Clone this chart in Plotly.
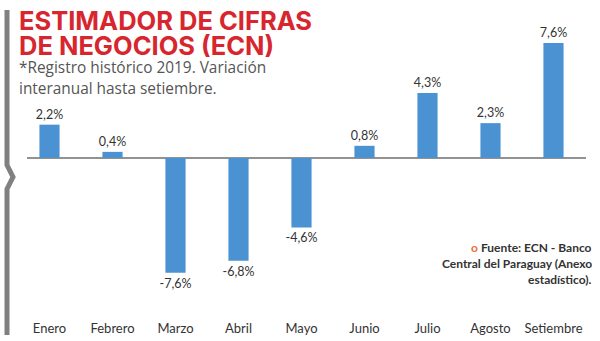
import plotly.graph_objects as go

months = ["Enero", "Febrero", "Marzo", "Abril", "Mayo", "Junio", "Julio", "Agosto", "Setiembre"]
values = [2.2, 0.4, -7.6, -6.8, -4.6, 0.8, 4.3, 2.3, 7.6]
labels = [f"{v:.1f}%".replace(".", ",") for v in values]

W, H = 600, 341
L, R, T, B = 18, 15, 34, 32
PW, PH = W - L - R, H - T - B

def px(x):
    return (x - L) / PW

def py(y):
    return (H - B - y) / PH

fig = go.Figure(go.Bar(
    x=months, y=values, text=labels, textposition="outside",
    marker=dict(color="#4b92d2", line=dict(width=0)),
    textfont=dict(family="Lato", size=12.5, color="#333333"),
    constraintext="none",
    cliponaxis=False,
))

fig.update_layout(
    width=W, height=H, margin=dict(l=L, r=R, t=T, b=B, autoexpand=False),
    paper_bgcolor="white", plot_bgcolor="white",
    bargap=0.68, showlegend=False,
    xaxis=dict(showgrid=False, showline=False, zeroline=False, ticks="",
               automargin=False,
               tickfont=dict(family="Lato", size=13, color="#333333"),
               ticklabelstandoff=10),
    yaxis=dict(range=[-10, 8.2], visible=False, showgrid=False, zeroline=False,
               automargin=False),
)

# zero line
fig.add_shape(type="line", xref="paper", yref="y", x0=px(27), x1=px(586), y0=0, y1=0,
              line=dict(color="#6e6e6e", width=1.5), layer="below")

# left decorative bar with chevron
path = (f"M {px(7)},{py(10)} L {px(7)},{py(165)} L {px(13)},{py(177)} "
        f"L {px(7)},{py(189)} L {px(7)},{py(335)}")
fig.add_shape(type="path", xref="paper", yref="paper", path=path,
              line=dict(color="#808080", width=5))

def line(text, x, y, size, family, color, anchor="left", h=None):
    fig.add_annotation(xref="paper", yref="paper", x=px(x), y=py(y), xanchor=anchor,
                       yanchor="middle", showarrow=False, text=text, height=h,
                       borderpad=0,
                       font=dict(family=family, size=size, color=color))

# title
line("<b>ESTIMADOR DE CIFRAS</b>", 18, 21, 25.5, "Inter", "#d7262e", h=23)
line("<b>DE NEGOCIOS (ECN)</b>", 18, 45, 25.5, "Inter", "#d7262e", h=23)
line("*Registro histórico 2019. Variación", 18, 67, 15.4, "Open Sans", "#555555", h=20)
line("interanual hasta setiembre.", 18, 88, 15.4, "Open Sans", "#555555", h=20)

# source
line("<span style='color:#e8703a'><b>o</b></span> <b>Fuente: ECN - Banco</b>", 593, 247, 12, "Lato", "#333333", "right", h=15)
line("<b>Central del Paraguay (Anexo</b>", 593, 263, 12, "Lato", "#333333", "right", h=15)
line("<b>estadístico).</b>", 593, 279, 12, "Lato", "#333333", "right", h=15)

fig.write_html("out.html")
